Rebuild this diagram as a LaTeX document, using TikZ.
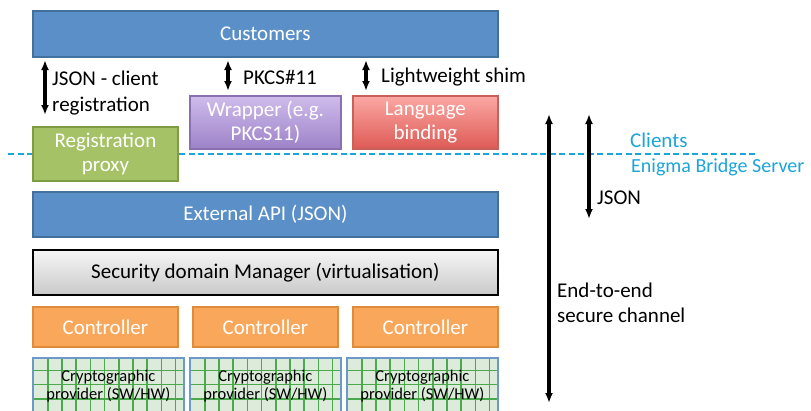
\documentclass[tikz,border=0pt]{standalone}
\usepackage{fontspec}
\setmainfont{Carlito}
\usetikzlibrary{arrows.meta,calc}
\definecolor{bluefill}{HTML}{5B8FC8}
\definecolor{blueline}{HTML}{41719C}
\definecolor{purtop}{HTML}{D0BCEB}
\definecolor{purbot}{HTML}{9C82C8}
\definecolor{purline}{HTML}{8A70B0}
\definecolor{redtop}{HTML}{FBA8A4}
\definecolor{redbot}{HTML}{DE5A55}
\definecolor{redline}{HTML}{C8605C}
\definecolor{greenfill}{HTML}{A5C266}
\definecolor{greenline}{HTML}{7E9C44}
\definecolor{orangefill}{HTML}{F9A75B}
\definecolor{orangeline}{HTML}{E08A3C}
\definecolor{cryptofill}{HTML}{DCEBDA}
\definecolor{gridc}{HTML}{4CA84C}
\definecolor{cryptoline}{HTML}{6C98CC}
\definecolor{cyanc}{HTML}{1BA5DA}
\definecolor{graytop}{HTML}{F6F6F6}
\definecolor{graybot}{HTML}{C9C9C9}
\begin{document}
\begin{tikzpicture}[x=1pt,y=-1pt,
  box/.style={draw, line width=1.8pt, anchor=north west, inner sep=0pt,
    align=center, text=white, font=\fontsize{21}{24.5}\selectfont},
  bluebox/.style={box, fill=bluefill, draw=blueline},
  lbl/.style={anchor=west, align=left, inner sep=0pt, font=\fontsize{21}{25.5}\selectfont},
  dbl/.style={{Latex[length=10pt,width=8pt]}-{Latex[length=10pt,width=8pt]}, line width=3.4pt},
  crypto/.style={box, fill=cryptofill, draw=cryptoline, text=black,
    minimum width=151pt, minimum height=57pt,
    font=\fontsize{16.5}{18}\selectfont,
    path picture={
      \foreach \i in {1,...,10}
        \draw[gridc, line width=1.5pt] ($(path picture bounding box.north west)+(0.7+\i*14.2,0)$) -- ++(0,60);
      \foreach \j in {0,1,2}
        \draw[gridc, line width=1.5pt] ($(path picture bounding box.north west)+(0,12.5+\j*14.2)$) -- ++(155,0);
    }},
  ctrl/.style={box, fill=orangefill, draw=orangeline, minimum width=145pt, minimum height=40pt}
]
\useasboundingbox (0,0) rectangle (811,410);

% dashed separator
\coordinate (dl) at (8,154);
\coordinate (dr) at (758,154);
\draw[cyanc, line width=1.8pt, dash pattern=on 6pt off 3.5pt] (dl) -- (dr);

\node[bluebox, minimum width=465pt, minimum height=46pt] (cust) at (32,10) {Customers};

\node[box, top color=purtop, bottom color=purbot, draw=purline, minimum width=151pt, minimum height=53pt] (wrap) at (189,95) {Wrapper (e.g.\\PKCS11)};
\node[box, top color=redtop, bottom color=redbot, draw=redline, minimum width=145pt, minimum height=53pt] (lang) at (352,95) {Language\\binding};
\node[box, fill=greenfill, draw=greenline, minimum width=145pt, minimum height=54pt] (proxy) at (32,126) {Registration\\proxy};

\node[bluebox, minimum width=465pt, minimum height=45pt] (api) at (32,191) {External API (JSON)};
\node[box, top color=graytop, bottom color=graybot, draw=black, text=black, minimum width=465pt, minimum height=45pt] (sdm) at (32,249) {Security domain Manager (virtualisation)};

\node[ctrl] (c1) at (32,306) {Controller};
\node[ctrl] (c2) at (192,306) {Controller};
\node[ctrl] (c3) at (352,306) {Controller};

\node[crypto] (p1) at (32,357) {Cryptographic\\provider (SW/HW)};
\node[crypto] (p2) at (189,357) {Cryptographic\\provider (SW/HW)};
\node[crypto] (p3) at (346,357) {Cryptographic\\provider (SW/HW)};

% arrows
\coordinate (a1t) at (45,60);  \coordinate (a1b) at (45,115);
\coordinate (a2t) at (228,60); \coordinate (a2b) at (228,91);
\coordinate (a3t) at (366,60); \coordinate (a3b) at (366,91);
\coordinate (a4t) at (549,114); \coordinate (a4b) at (549,403);
\coordinate (a5t) at (589,114); \coordinate (a5b) at (589,219);
\draw[dbl] (a1t) -- (a1b);
\draw[dbl] (a2t) -- (a2b);
\draw[dbl] (a3t) -- (a3b);
\draw[dbl] (a4t) -- (a4b);
\draw[dbl] (a5t) -- (a5b);

\node[lbl] (l1) at (52,93) {JSON - client\\registration};
\node[lbl] (l2) at (243,77) {PKCS\#11};
\node[lbl] (l3) at (381,77) {Lightweight shim};
\node[lbl] (l4) at (597,198) {JSON};
\node[lbl] (l5) at (557,303) {End-to-end\\secure channel};
\node[lbl, text=cyanc] (l6) at (630,140) {Clients};
\node[lbl, text=cyanc, font=\fontsize{20}{24}\selectfont] (l7) at (631,167) {Enigma Bridge Server};
\end{tikzpicture}
\end{document}
